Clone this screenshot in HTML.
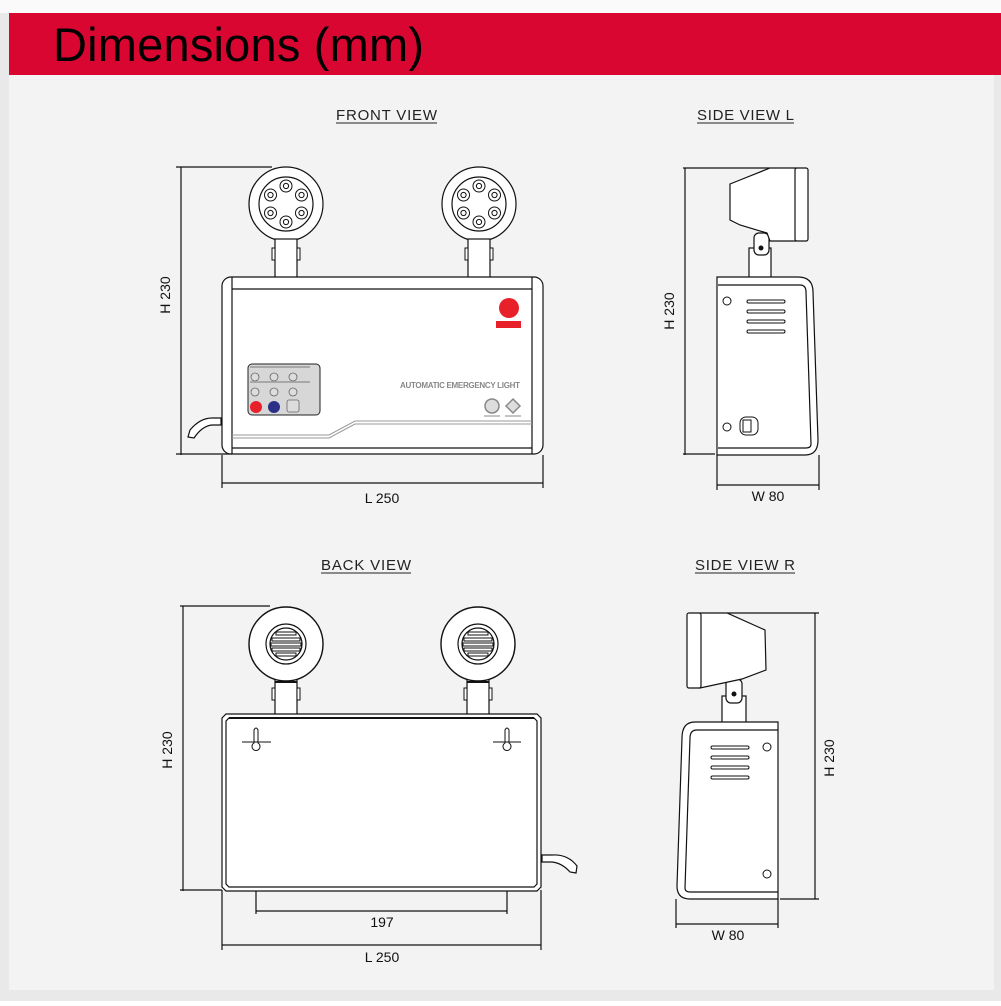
<!DOCTYPE html>
<html><head><meta charset="utf-8"><style>
html,body{margin:0;padding:0;background:#fff;}
body{width:1001px;height:1001px;overflow:hidden;font-family:"Liberation Sans",sans-serif;}
</style></head><body>
<svg width="1001" height="1001" viewBox="0 0 1001 1001" xmlns="http://www.w3.org/2000/svg" font-family="Liberation Sans, sans-serif">
<defs>
<g id="led"><circle r="6" fill="#fff" stroke="#111" stroke-width="1"/><circle r="2.6" fill="none" stroke="#111" stroke-width="1"/></g>
<g id="fhead">
 <circle cx="0" cy="0" r="37" fill="#fff" stroke="#111" stroke-width="1.2"/>
 <circle cx="0" cy="0" r="27" fill="#fff" stroke="#111" stroke-width="1.2"/>
 <use href="#led" x="0" y="-18"/><use href="#led" x="0" y="18"/>
 <use href="#led" x="-15.5" y="-9"/><use href="#led" x="15.5" y="-9"/>
 <use href="#led" x="-15.5" y="9"/><use href="#led" x="15.5" y="9"/>
 <rect x="-11" y="35" width="22" height="40" fill="#fff" stroke="#111" stroke-width="1.2"/>
 <rect x="-14" y="44" width="3" height="12" fill="#fff" stroke="#111" stroke-width="1"/>
 <rect x="11" y="44" width="3" height="12" fill="#fff" stroke="#111" stroke-width="1"/>
</g>
<g id="bhead">
 <rect x="-11" y="35" width="22" height="37" fill="#fff" stroke="#111" stroke-width="1.2"/>
 <rect x="-14" y="44" width="3" height="12" fill="#fff" stroke="#111" stroke-width="1"/>
 <rect x="11" y="44" width="3" height="12" fill="#fff" stroke="#111" stroke-width="1"/>
 <line x1="-11" y1="38" x2="11" y2="38" stroke="#111" stroke-width="2"/>
 <circle r="37" fill="#fff" stroke="#111" stroke-width="1.4"/>
 <circle r="20" fill="#fff" stroke="#111" stroke-width="1.2"/>
 <circle r="16" fill="#fff" stroke="#111" stroke-width="1.2"/>
 <g stroke="#111" stroke-width="1" fill="#fff">
 <rect x="-10" y="-12" width="20" height="3"/><rect x="-14" y="-6" width="28" height="3"/>
 <rect x="-15" y="-1" width="30" height="3"/><rect x="-14" y="4" width="28" height="3"/>
 <rect x="-10" y="9" width="20" height="3"/></g>
</g>
</defs>
<rect x="0" y="0" width="1001" height="1001" fill="#e9e9e9"/>
<rect x="0" y="0" width="1001" height="13" fill="#fafafa"/>
<rect x="9" y="13" width="985" height="977" fill="#f3f3f3"/>
<rect x="9" y="13" width="992" height="62" fill="#d90632"/>
<text x="53" y="61" font-size="47" fill="#000" textLength="371">Dimensions (mm)</text>

<g font-size="15" fill="#222">
<text x="336" y="120" textLength="101">FRONT VIEW</text><line x1="336" y1="123" x2="437" y2="123" stroke="#222"/>
<text x="697" y="120" textLength="97">SIDE VIEW L</text><line x1="697" y1="123" x2="794" y2="123" stroke="#222"/>
<text x="321" y="570" textLength="90">BACK VIEW</text><line x1="321" y1="573" x2="411" y2="573" stroke="#222"/>
<text x="695" y="570" textLength="100">SIDE VIEW R</text><line x1="695" y1="573" x2="795" y2="573" stroke="#222"/>
</g>

<!-- FRONT VIEW -->
<g stroke="#111" stroke-width="1.2" fill="none">
<line x1="181" y1="167" x2="181" y2="455"/><line x1="176" y1="167" x2="272" y2="167"/><line x1="176" y1="454" x2="232" y2="454"/>
<line x1="222" y1="455" x2="222" y2="488"/><line x1="543" y1="455" x2="543" y2="488"/><line x1="222" y1="483" x2="543" y2="483"/>
</g>
<use href="#fhead" x="286" y="204"/>
<use href="#fhead" x="479" y="204"/>
<rect x="222" y="277" width="321" height="177" rx="9" fill="#fff" stroke="#111" stroke-width="1.2"/>
<g stroke="#111" stroke-width="1.2" fill="none">
<line x1="232" y1="289" x2="532" y2="289"/><line x1="232" y1="448" x2="532" y2="448"/>
<line x1="232" y1="277" x2="232" y2="454"/><line x1="532" y1="277" x2="532" y2="454"/>
</g>
<path d="M232 435 L329 435 L355 421 L532 421" stroke="#999" stroke-width="1" fill="none"/>
<path d="M232 438 L329 438 L355 424 L532 424" stroke="#999" stroke-width="1" fill="none"/>
<path d="M221 418 L212 418 Q200 418 190 430 L188 437 L194 438 Q202 426 212 425 L221 425 Z" fill="#fff" stroke="#111" stroke-width="1.2"/>
<circle cx="509" cy="308" r="10" fill="#e8202a"/>
<rect x="496" y="321" width="25" height="7" fill="#e8202a"/>
<rect x="248" y="364" width="72" height="51" rx="4" fill="#d7d7d7" stroke="#222" stroke-width="1"/>
<g fill="#ddd" stroke="#666" stroke-width="0.8">
<circle cx="255" cy="377" r="4"/><circle cx="274" cy="377" r="4"/><circle cx="293" cy="377" r="4"/>
<circle cx="255" cy="392" r="4"/><circle cx="274" cy="392" r="4"/><circle cx="293" cy="392" r="4"/>
<rect x="287" y="400" width="12" height="12" rx="2"/></g>
<circle cx="256" cy="407" r="6" fill="#e8202a"/><circle cx="274" cy="407" r="6" fill="#2c2f86"/>
<rect x="250" y="366" width="60" height="2" fill="#888" opacity=".6"/>
<rect x="250" y="381" width="60" height="2" fill="#888" opacity=".6"/>
<text x="460" y="388" font-size="8" font-weight="bold" fill="#888" text-anchor="middle" textLength="120">AUTOMATIC EMERGENCY LIGHT</text>
<circle cx="492" cy="406" r="7" fill="#ddd" stroke="#888" stroke-width="1.5"/>
<path d="M513 399 L520 406 L513 413 L506 406 Z" fill="#ddd" stroke="#888" stroke-width="1.5"/>
<line x1="484" y1="416" x2="500" y2="416" stroke="#888"/><line x1="505" y1="416" x2="521" y2="416" stroke="#888"/>
<text x="170" y="295" font-size="14" fill="#111" text-anchor="middle" transform="rotate(-90 170 295)">H 230</text>
<text x="382" y="503" font-size="14" fill="#111" text-anchor="middle">L 250</text>

<!-- SIDE VIEW L -->
<g stroke="#111" stroke-width="1.2" fill="none">
<line x1="685" y1="168" x2="685" y2="455"/><line x1="683" y1="168" x2="770" y2="168"/><line x1="683" y1="454" x2="715" y2="454"/>
<line x1="717" y1="455" x2="717" y2="490"/><line x1="819" y1="455" x2="819" y2="490"/><line x1="717" y1="485" x2="819" y2="485"/>
</g>
<rect x="749" y="248" width="22" height="30" fill="#fff" stroke="#111" stroke-width="1.2"/>
<rect x="754" y="233" width="15" height="22" rx="5" fill="#fff" stroke="#111" stroke-width="1.2"/>
<circle cx="761" cy="248" r="2.5" fill="#111"/>
<path d="M770 168 L796 168 L796 241 L770 241 L767 233 L740 225 L730 220 L730 184 L740 180 Z" fill="#fff" stroke="#111" stroke-width="1.2"/>
<rect x="795" y="168" width="13" height="73" rx="2" fill="#fff" stroke="#111" stroke-width="1.2"/>
<path d="M717 277 L798 277 Q813 277 813 292 L818 440 Q818 455 805 455 L717 455 Z" fill="#fff" stroke="#111" stroke-width="1.2"/>
<path d="M718 285 L800 285 Q806 285 806 292 L811 444 Q811 448 806 448 L718 448" fill="none" stroke="#111" stroke-width="1.2"/>
<g fill="#fff" stroke="#111" stroke-width="1">
<rect x="747" y="300" width="38" height="3" rx="1.5"/><rect x="747" y="310" width="38" height="3" rx="1.5"/>
<rect x="747" y="320" width="38" height="3" rx="1.5"/><rect x="747" y="330" width="38" height="3" rx="1.5"/>
<circle cx="727" cy="301" r="4"/><circle cx="727" cy="427" r="4"/>
<rect x="740" y="417" width="18" height="18" rx="6"/><rect x="743" y="420" width="8" height="12"/></g>
<text x="674" y="311" font-size="14" fill="#111" text-anchor="middle" transform="rotate(-90 674 311)">H 230</text>
<text x="768" y="501" font-size="14" fill="#111" text-anchor="middle">W 80</text>

<!-- BACK VIEW -->
<g stroke="#111" stroke-width="1.2" fill="none">
<line x1="183" y1="606" x2="183" y2="891"/><line x1="180" y1="606" x2="270" y2="606"/><line x1="180" y1="890" x2="222" y2="890"/>
<line x1="222" y1="890" x2="222" y2="950"/><line x1="541" y1="890" x2="541" y2="950"/><line x1="222" y1="945" x2="541" y2="945"/>
<line x1="256" y1="745" x2="256" y2="914"/><line x1="507" y1="745" x2="507" y2="914"/><line x1="256" y1="911" x2="507" y2="911"/>
</g>
<use href="#bhead" x="286" y="644"/>
<use href="#bhead" x="478" y="644"/>
<path d="M226 714 L537 714 L541 718 L541 887 L537 891 L226 891 L222 887 L222 718 Z" fill="#fff" stroke="#111" stroke-width="1.2"/>
<path d="M229 718 L534 718 L537 721 L537 884 L534 887 L229 887 L226 884 L226 721 Z" fill="none" stroke="#111" stroke-width="1.2"/>
<line x1="229" y1="718" x2="534" y2="718" stroke="#111" stroke-width="2"/>
<g stroke="#111" stroke-width="1" fill="#fff">
<path d="M254 743 L254 730 Q256 726 258 730 L258 743 A4 4 0 1 1 254 743 Z"/>
<path d="M505 743 L505 730 Q507 726 509 730 L509 743 A4 4 0 1 1 505 743 Z"/>
<line x1="242" y1="742" x2="271" y2="742"/><line x1="493" y1="742" x2="521" y2="742"/>
</g>
<path d="M542 855 L552 855 Q568 854 577 866 L576 873 L570 872 Q562 863 552 862 L542 862 Z" fill="#fff" stroke="#111" stroke-width="1.2"/>
<text x="172" y="750" font-size="14" fill="#111" text-anchor="middle" transform="rotate(-90 172 750)">H 230</text>
<text x="382" y="927" font-size="14" fill="#111" text-anchor="middle">197</text>
<text x="382" y="962" font-size="14" fill="#111" text-anchor="middle">L 250</text>

<!-- SIDE VIEW R -->
<g stroke="#111" stroke-width="1.2" fill="none">
<line x1="815" y1="613" x2="815" y2="899"/><line x1="727" y1="613" x2="819" y2="613"/><line x1="780" y1="899" x2="819" y2="899"/>
<line x1="676" y1="899" x2="676" y2="928"/><line x1="778" y1="899" x2="778" y2="928"/><line x1="676" y1="924" x2="778" y2="924"/>
</g>
<rect x="722" y="696" width="24" height="28" fill="#fff" stroke="#111" stroke-width="1.2"/>
<rect x="726" y="679" width="16" height="24" rx="5" fill="#fff" stroke="#111" stroke-width="1.2"/>
<circle cx="734" cy="694" r="2.5" fill="#111"/>
<path d="M700 613 L727 613 L765 630 L766 670 L742 679 L700 688 Z" fill="#fff" stroke="#111" stroke-width="1.2"/>
<rect x="687" y="613" width="14" height="75" rx="2" fill="#fff" stroke="#111" stroke-width="1.2"/>
<path d="M778 722 L695 722 Q682 722 682 738 L677 886 Q677 899 690 899 L778 899 Z" fill="#fff" stroke="#111" stroke-width="1.2"/>
<path d="M778 730 L697 730 Q690 730 690 738 L685 888 Q685 892 690 892 L778 892" fill="none" stroke="#111" stroke-width="1.2"/>
<g fill="#fff" stroke="#111" stroke-width="1">
<rect x="711" y="746" width="38" height="3" rx="1.5"/><rect x="711" y="756" width="38" height="3" rx="1.5"/>
<rect x="711" y="766" width="38" height="3" rx="1.5"/><rect x="711" y="776" width="38" height="3" rx="1.5"/>
<circle cx="767" cy="747" r="4"/><circle cx="767" cy="874" r="4"/></g>
<text x="834" y="758" font-size="14" fill="#111" text-anchor="middle" transform="rotate(-90 834 758)">H 230</text>
<text x="728" y="940" font-size="14" fill="#111" text-anchor="middle">W 80</text>
</svg>
</body></html>
